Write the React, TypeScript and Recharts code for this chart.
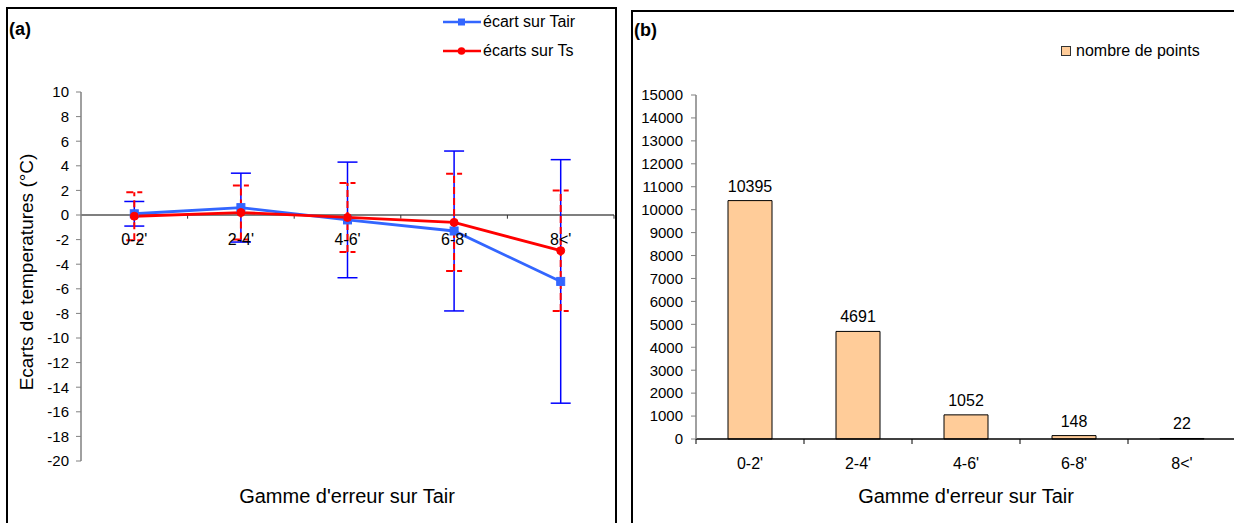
import React from 'react';
import {
  ComposedChart,
  Line,
  ErrorBar,
  XAxis,
  YAxis,
  ReferenceLine,
  LabelList,
  Legend,
  BarChart,
  Bar,
} from 'recharts';

// ---------- data ----------
const categories = ["0-2'", "2-4'", "4-6'", "6-8'", "8<'"];
const tairValues = [0.1, 0.6, -0.4, -1.3, -5.4];
const tairErrors = [1.0, 2.8, 4.7, 6.5, 9.9];
const tsValues = [-0.1, 0.2, -0.2, -0.6, -2.9];
const tsErrors = [1.95, 2.2, 2.8, 3.95, 4.9];
const pointCounts = [10395, 4691, 1052, 148, 22];
const tempTicks = [10, 8, 6, 4, 2, 0, -2, -4, -6, -8, -10, -12, -14, -16, -18, -20];
const countTicks = [0, 1000, 2000, 3000, 4000, 5000, 6000, 7000, 8000, 9000, 10000, 11000, 12000, 13000, 14000, 15000];

const seriesNames = { tair: 'écart sur Tair', ts: 'écarts sur Ts', count: 'nombre de points' };
const xTitle = "Gamme d'erreur sur Tair";
const yTitle = 'Ecarts  de temperatures  (°C)';

// tables built from the arrays
const tempData = categories.map((cat, i) => ({
  x: i + 0.5,
  cat,
  zero: 0,
  tair: tairValues[i],
  tairErr: tairErrors[i],
  ts: tsValues[i],
  tsErr: tsErrors[i],
}));
const countData = categories.map((cat, i) => ({ x: i + 0.5, cat, count: pointCounts[i] }));
const boundaries = categories.map((_, i) => i + 1);
const bandTicks: number[] = [0];
categories.forEach((_, i) => {
  bandTicks.push(i + 0.5);
  bandTicks.push(i + 1);
});

const FONT = "'Liberation Sans', Arial, sans-serif";
const BLUE = '#3366FF';
const BLUE_ERR = '#0000FF';
const RED = '#FF0000';
const PEACH = '#FFCC99';

const BandTick = (props: any) => {
  const { x, y, payload } = props;
  const v = payload.value;
  if (Number.isInteger(v)) {
    return <line x1={x} x2={x} y1={y} y2={y + 5} stroke="#000" strokeWidth={1} />;
  }
  return (
    <text x={x} y={y + 24} textAnchor="middle" dominantBaseline="central" fontSize={16} fontFamily={FONT} fill="#000">
      {categories[Math.floor(v)]}
    </text>
  );
};

const SquareDot = (props: any) => {
  const { cx, cy } = props;
  if (cx == null || cy == null) return null;
  return <rect x={cx - 4} y={cy - 4} width={8} height={8} fill={BLUE} stroke={BLUE} />;
};

const TempLegend = (props: any) => {
  const items = (props.payload || []).filter((p: any) => p.dataKey === 'tair' || p.dataKey === 'ts');
  return (
    <div style={{ fontFamily: FONT, fontSize: 16, color: '#000' }}>
      {items.map((p: any) => {
        const isTair = p.dataKey === 'tair';
        const col = isTair ? BLUE : RED;
        return (
          <div key={p.dataKey} style={{ display: 'flex', alignItems: 'center', height: 29 }}>
            <svg width={38} height={10} style={{ marginRight: 2 }}>
              <line x1={0} x2={38} y1={5} y2={5} stroke={col} strokeWidth={2.5} />
              {isTair ? (
                <rect x={15} y={1.5} width={7} height={7} fill={col} />
              ) : (
                <circle cx={18.5} cy={5} r={3.8} fill={col} />
              )}
            </svg>
            <span>{p.value}</span>
          </div>
        );
      })}
    </div>
  );
};

const CountLegend = (props: any) => {
  const items = props.payload || [];
  return (
    <div style={{ fontFamily: FONT, fontSize: 16, color: '#000' }}>
      {items.map((p: any) => (
        <div key={p.dataKey} style={{ display: 'flex', alignItems: 'center' }}>
          <svg width={11} height={11} style={{ marginRight: 4 }}>
            <rect x={0.5} y={0.5} width={9} height={9} fill={PEACH} stroke="#333" strokeWidth={1} />
          </svg>
          <span>{p.value}</span>
        </div>
      ))}
    </div>
  );
};

const textBase: React.CSSProperties = { position: 'absolute', fontFamily: FONT, color: '#000', whiteSpace: 'nowrap' };

export default function App() {
  return (
    <div style={{ position: 'absolute', left: 0, top: 0, width: 1234, height: 523, overflow: 'hidden', background: '#fff' }}>
      {/* panel frames */}
      <div style={{ position: 'absolute', left: 6, top: 7, width: 611, height: 600, border: '2px solid #000', boxSizing: 'border-box' }} />
      <div style={{ position: 'absolute', left: 631, top: 10, width: 700, height: 600, border: '2px solid #000', boxSizing: 'border-box' }} />

      {/* left chart */}
      <div style={{ position: 'absolute', left: 0, top: 0 }}>
        <ComposedChart width={620} height={523} data={tempData} margin={{ top: 92, right: 6, bottom: 62, left: 0 }}>
          <XAxis dataKey="x" type="number" domain={[0, 5]} hide />
          <YAxis
            type="number"
            domain={[-20, 10]}
            ticks={tempTicks}
            interval={0}
            width={81}
            axisLine={{ stroke: '#808080', strokeWidth: 1.5 }}
            tickLine={{ stroke: '#808080' }}
            tickSize={5}
            tickMargin={7}
            tick={{ fill: '#000', fontSize: 15, fontFamily: FONT }}
          />
          <ReferenceLine y={0} stroke="#555" strokeWidth={1.5} />
          {boundaries.map((b) => (
            <ReferenceLine
              key={b}
              segment={[
                { x: b, y: 0 },
                { x: b, y: -0.3 },
              ]}
              stroke="#333"
            />
          ))}
          <Line
            dataKey="zero"
            stroke="none"
            dot={false}
            activeDot={false}
            legendType="none"
            isAnimationActive={false}
          >
            <LabelList dataKey="cat" position="bottom" offset={19} fill="#000" fontSize={16} fontFamily={FONT} />
          </Line>
          <Line
            dataKey="tair"
            name={seriesNames.tair}
            stroke={BLUE}
            strokeWidth={2.8}
            dot={<SquareDot />}
            activeDot={false}
            isAnimationActive={false}
          >
            <ErrorBar dataKey="tairErr" direction="y" width={10} stroke={BLUE_ERR} strokeWidth={1.5} />
          </Line>
          <Line
            dataKey="ts"
            name={seriesNames.ts}
            stroke={RED}
            strokeWidth={2.8}
            dot={{ r: 4, fill: RED, stroke: RED, strokeWidth: 1 }}
            activeDot={false}
            isAnimationActive={false}
          >
            <ErrorBar dataKey="tsErr" direction="y" width={8} stroke={RED} strokeWidth={2} strokeDasharray="7 4" />
          </Line>
          <Legend
            layout="vertical"
            align="center"
            verticalAlign="middle"
            content={<TempLegend />}
            wrapperStyle={{ position: 'absolute', left: 443, top: 7, width: 170, height: 60 }}
          />
        </ComposedChart>
      </div>

      {/* right chart */}
      <div style={{ position: 'absolute', left: 620, top: 0 }}>
        <BarChart width={620} height={523} data={countData} margin={{ top: 95, right: 4, bottom: 44, left: 0 }}>
          <XAxis
            dataKey="x"
            type="number"
            domain={[0, 5]}
            ticks={bandTicks}
            interval={0}
            height={40}
            axisLine={{ stroke: '#000', strokeWidth: 1.5 }}
            tickLine={false}
            tickSize={0}
            tickMargin={0}
            tick={<BandTick />}
          />
          <YAxis
            type="number"
            domain={[0, 15000]}
            ticks={countTicks}
            interval={0}
            width={76}
            axisLine={{ stroke: '#808080', strokeWidth: 1.5 }}
            tickLine={{ stroke: '#808080' }}
            tickSize={5}
            tickMargin={8}
            tick={{ fill: '#000', fontSize: 15, fontFamily: FONT }}
          />
          <Bar dataKey="count" name={seriesNames.count} fill={PEACH} stroke="#000" strokeWidth={1} barSize={44} isAnimationActive={false}>
            <LabelList dataKey="count" position="top" offset={9} fill="#000" fontSize={16} fontFamily={FONT} />
          </Bar>
          <Legend
            layout="vertical"
            align="center"
            verticalAlign="middle"
            content={<CountLegend />}
            wrapperStyle={{ position: 'absolute', left: 441, top: 42, width: 170, height: 22 }}
          />
        </BarChart>
      </div>

      {/* panel letters and axis titles */}
      <div style={{ ...textBase, left: 9, top: 19, fontSize: 18, fontWeight: 'bold' }}>(a)</div>
      <div style={{ ...textBase, left: 634, top: 20, fontSize: 18, fontWeight: 'bold' }}>(b)</div>
      <div style={{ ...textBase, left: 347, top: 496, fontSize: 20, transform: 'translate(-50%, -50%)' }}>{xTitle}</div>
      <div style={{ ...textBase, left: 966, top: 496, fontSize: 20, transform: 'translate(-50%, -50%)' }}>{xTitle}</div>
      <div
        style={{
          ...textBase,
          left: 27,
          top: 272,
          fontSize: 19,
          transform: 'translate(-50%, -50%) rotate(-90deg)',
        }}
      >
        {yTitle}
      </div>
    </div>
  );
}
